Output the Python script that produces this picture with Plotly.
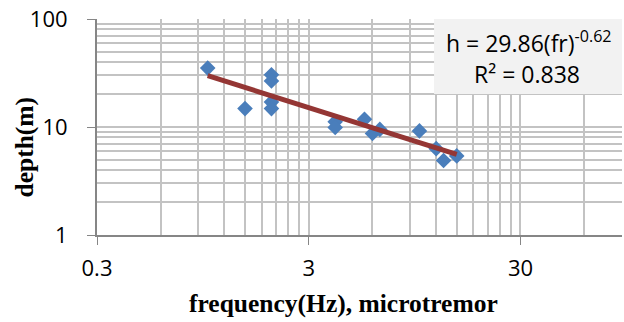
import numpy as np
import plotly.graph_objects as go

# Resonance frequency (Hz) from microtremor records vs. depth to bedrock (m)
freq = [1.0, 1.5, 2.0, 2.0, 2.0, 2.0, 4.0, 4.0, 5.5, 6.0, 6.5, 10.0, 12.0, 13.0, 15.0]
depth = [35.1, 14.8, 30.4, 26.7, 17.0, 14.8, 11.2, 9.9, 11.8, 8.7, 9.5, 9.2, 6.3, 4.9, 5.4]

# Power-law fit h = a * fr^b
coef_a = 29.86
coef_b = -0.62
r_squared = 0.838

x_major = [0.3, 3, 30]
x_major_text = ["0.3", "3", "30"]
x_minor = [0.3 * k * 10 ** d for d in range(0, 2) for k in range(2, 10)] + [60, 90]
y_major = [1, 10, 100]
y_major_text = ["1", "10", "100"]
y_minor = [k * 10 ** d for d in range(0, 2) for k in range(2, 10)]

fit_x = np.logspace(np.log10(min(freq)), np.log10(max(freq)), 50)
fit_y = coef_a * fit_x ** coef_b

GRID = "#C3C3C3"
AXIS = "#868686"
TICKFONT = dict(family="Open Sans", size=22, color="#000000")

fig = go.Figure()
fig.add_trace(go.Scatter(
    x=freq, y=depth, mode="markers",
    marker=dict(symbol="diamond", size=12, color="#4A7EBB"),
    showlegend=False,
))
fig.add_trace(go.Scatter(
    x=fit_x, y=fit_y, mode="lines",
    line=dict(color="#943634", width=5),
    showlegend=False,
))

fig.update_xaxes(
    type="log", range=[np.log10(0.3), np.log10(90.5)],
    tickmode="array", tickvals=x_major, ticktext=x_major_text,
    ticks="outside", ticklen=8, tickcolor=AXIS, tickwidth=1,
    showline=True, linecolor=AXIS, linewidth=2,
    showgrid=True, gridcolor=GRID, gridwidth=2,
    minor=dict(tickmode="array", tickvals=x_minor, showgrid=True,
               gridcolor=GRID, gridwidth=2, ticks=""),
    tickfont=TICKFONT, ticklabelstandoff=5, zeroline=False,
)
fig.update_yaxes(
    type="log", range=[0, 2],
    tickmode="array", tickvals=y_major, ticktext=y_major_text,
    ticks="outside", ticklen=8, tickcolor=AXIS, tickwidth=1,
    showline=True, linecolor=AXIS, linewidth=2,
    showgrid=True, gridcolor=GRID, gridwidth=2,
    minor=dict(tickmode="array", tickvals=y_minor, showgrid=True,
               gridcolor=GRID, gridwidth=2, ticks=""),
    tickfont=TICKFONT, ticklabelstandoff=15, zeroline=False,
)

# Equation box in the upper right corner
fig.add_shape(type="rect", xref="paper", yref="paper",
              x0=0.642, x1=1.0, y0=0.653, y1=1.0,
              fillcolor="#F2F2F2", line=dict(width=0), layer="above")
fig.add_annotation(xref="paper", yref="paper", x=0.822, y=0.895,
                   text=f"h = {coef_a:.2f}(fr)<sup>{coef_b:.2f}</sup>",
                   showarrow=False, xanchor="center", yanchor="middle",
                   font=dict(family="Open Sans", size=23, color="#000000"))
fig.add_annotation(xref="paper", yref="paper", x=0.819, y=0.746,
                   text=f"R² = {r_squared:.3f}",
                   showarrow=False, xanchor="center", yanchor="middle",
                   font=dict(family="Open Sans", size=23, color="#000000"))

# Axis titles
fig.add_annotation(xref="paper", yref="paper", x=0.47, y=-0.315,
                   text="<b>frequency(Hz), microtremor</b>",
                   showarrow=False, xanchor="center", yanchor="middle",
                   font=dict(family="Liberation Serif", size=25.5, color="#000000"))
fig.add_annotation(xref="paper", yref="paper", x=-0.139, y=0.405,
                   text="<b>depth(m)</b>", textangle=-90,
                   showarrow=False, xanchor="center", yanchor="middle",
                   font=dict(family="Liberation Serif", size=25.5, color="#000000"))

fig.update_layout(
    width=624, height=322,
    margin=dict(l=97, r=2, t=19, b=87),
    plot_bgcolor="#FFFFFF", paper_bgcolor="#FFFFFF",
)

fig.write_html("out.html")
